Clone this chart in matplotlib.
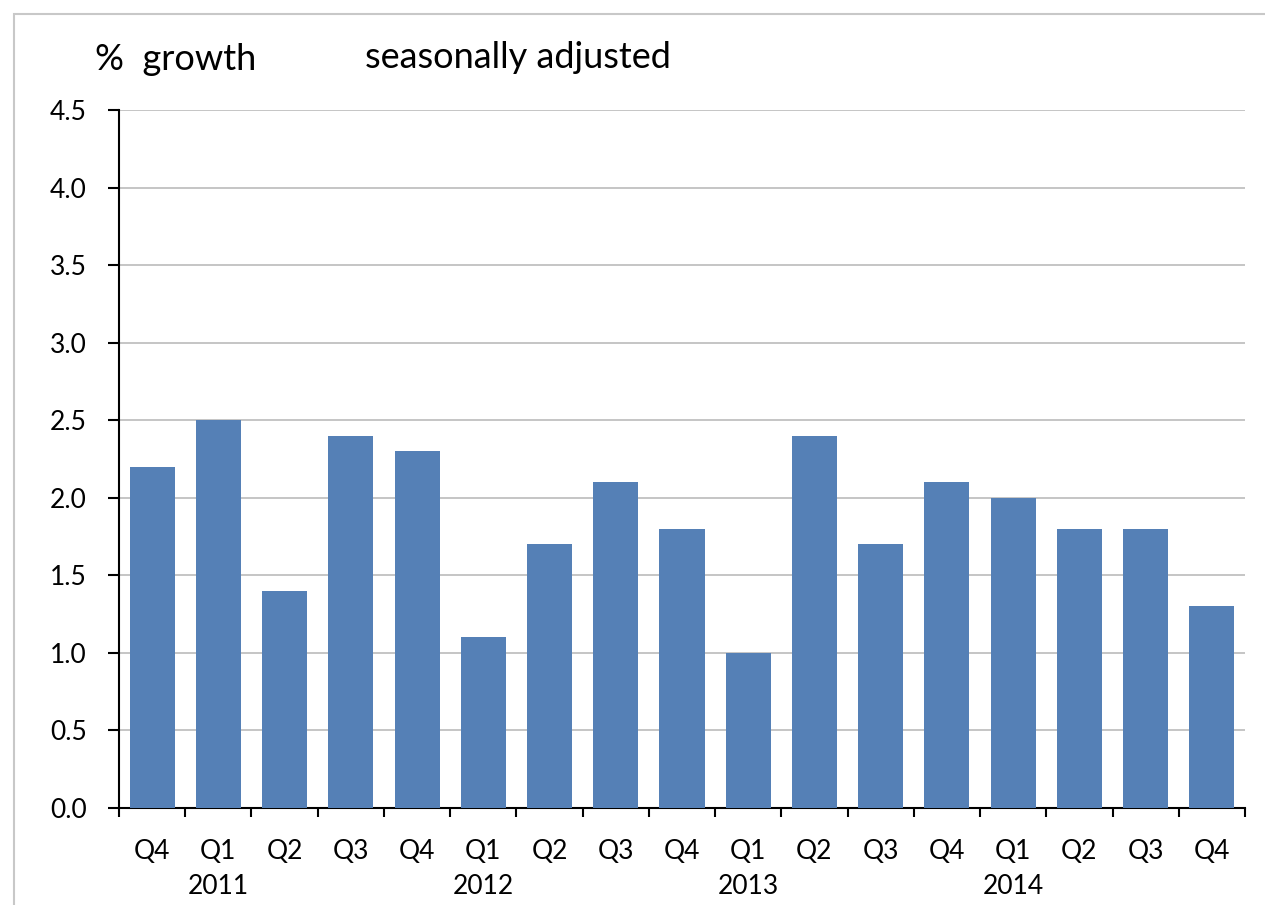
import numpy as np
import matplotlib.pyplot as plt
from matplotlib.patches import Rectangle

# quarterly % growth, seasonally adjusted
quarters = ['Q4', 'Q1', 'Q2', 'Q3', 'Q4', 'Q1', 'Q2', 'Q3', 'Q4',
            'Q1', 'Q2', 'Q3', 'Q4', 'Q1', 'Q2', 'Q3', 'Q4']
growth = [2.2, 2.5, 1.4, 2.4, 2.3, 1.1, 1.7, 2.1, 1.8,
          1.0, 2.4, 1.7, 2.1, 2.0, 1.8, 1.8, 1.3]
years = ['2011', '2012', '2013', '2014']
year_pos = [1, 5, 9, 13]

plt.rcParams['font.family'] = ['Lato', 'DejaVu Sans']

fig = plt.figure(figsize=(12.65, 9.05), dpi=100)
ax = fig.add_axes([119 / 1265, 97 / 905, 1126 / 1265, 698 / 905])

# thin frame round the chart area
fig.patches.append(Rectangle((14 / 1265, -0.1), 1.2, (905 - 14) / 905 + 0.1,
                             transform=fig.transFigure, fill=False,
                             edgecolor='#c8c8c8', linewidth=1.5))

x = np.arange(len(growth))
ax.bar(x, growth, width=0.68, color='#5580b6', zorder=3)

ax.set_xlim(-0.5, len(growth) - 0.5)
ax.set_ylim(0, 4.5)
ax.set_yticks(np.arange(0, 4.51, 0.5))
ax.set_yticklabels([f'{v:.1f}' for v in np.arange(0, 4.51, 0.5)])
ax.yaxis.grid(True, color='#c0c0c0', linewidth=1.3, zorder=0)

ax.set_xticks(x)
ax.set_xticklabels(quarters)
ax.set_xticks(np.arange(-0.5, len(growth)), minor=True)
ax.tick_params(axis='x', which='major', length=0, pad=22, labelsize=19)
ax.tick_params(axis='x', which='minor', length=6.5, width=1.5)
ax.tick_params(axis='y', length=8, width=1.5, pad=15, labelsize=19)

for s in ['top', 'right']:
    ax.spines[s].set_visible(False)
for s in ['left', 'bottom']:
    ax.spines[s].set_linewidth(1.5)

for yr, p in zip(years, year_pos):
    ax.annotate(yr, xy=(p, 0), xycoords=('data', 'axes fraction'),
                xytext=(0, -78), textcoords='offset pixels',
                ha='center', va='center', fontsize=19)

fig.text(95 / 1265, 1 - 60 / 905, '%  growth', fontsize=26, va='center')
fig.text(365 / 1265, 1 - 57 / 905, 'seasonally adjusted', fontsize=26, va='center')

plt.savefig('out.png', dpi=100)
